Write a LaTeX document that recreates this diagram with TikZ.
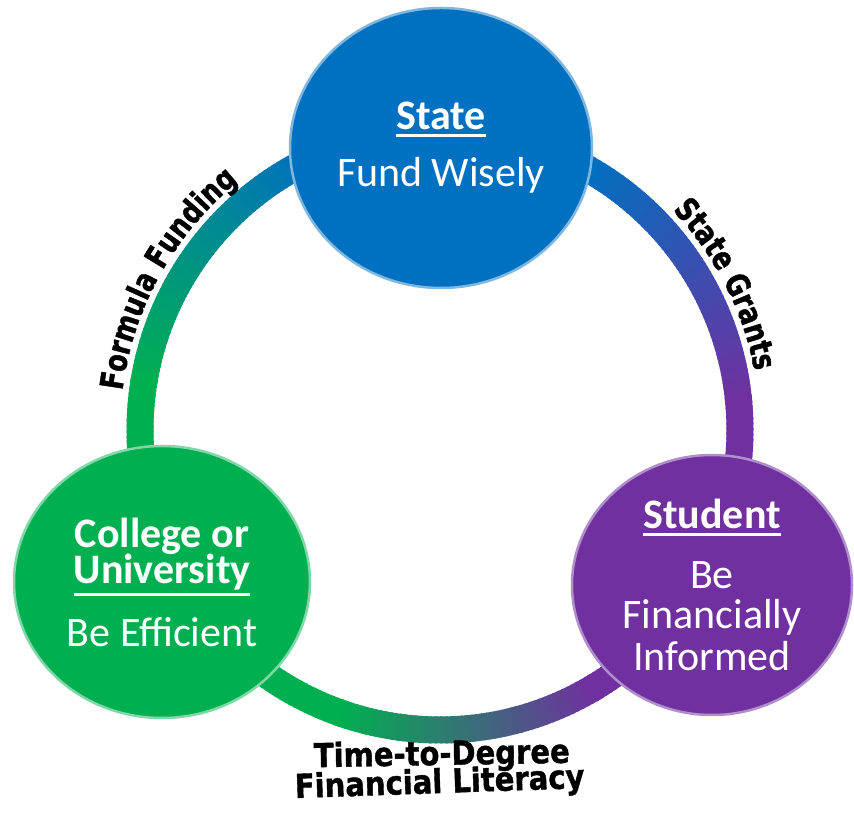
\documentclass[tikz,border=0pt]{standalone}
\usepackage{fontspec}
\setmainfont{Carlito}
\newfontfamily\loopfont{DejaVu Sans}[FakeStretch=0.88, FakeBold=1.2]
\newfontfamily\arcfont{DejaVu Sans}[FakeStretch=0.8, FakeBold=1.3]
\usetikzlibrary{shapes.geometric, decorations.text}

\definecolor{stateblue}{RGB}{0,112,192}
\definecolor{collegegreen}{RGB}{0,176,80}
\definecolor{studentpurple}{RGB}{112,48,160}

% underlined title, #1 = drop of the rule below the baseline
\newcommand{\ultext}[2][7pt]{\setbox0=\hbox{#2}\rlap{\rule[-#1]{\wd0}{3pt}}\box0}

\tikzset{
  actor/.style={ellipse, inner sep=0pt, line width=2.5pt, text=white, align=center,
    font=\fontsize{42}{40}\selectfont},
  ringline/.style={line width=27pt},
  bottomlabel/.style={anchor=base, font=\loopfont\bfseries\fontsize{33}{33}\selectfont}
}

\begin{document}
\begin{tikzpicture}[x=1pt, y=1pt]
\useasboundingbox (0,0) rectangle (854,821);
% Ring
\coordinate (ringc) at (440,391);
\foreach \ringfrom/\ringto/\colfrom/\colto in {100/115/stateblue/stateblue, 115/170/stateblue/collegegreen,
  170/250/collegegreen/collegegreen, 250/300/collegegreen/studentpurple, 300/365/studentpurple/studentpurple,
  365/420/studentpurple/stateblue, 420/460/stateblue/stateblue} {
  \foreach \a in {\ringfrom,...,\ringto} {
    \pgfmathtruncatemacro\mix{100*(\a-\ringfrom)/(\ringto-\ringfrom)}
    \draw[ringline, draw=\colto!\mix!\colfrom] ([shift={(ringc)}]\a:300pt) arc[start angle=\a, delta angle=1.5, radius=300pt];
  }
}
% Circles
\node[actor, fill=stateblue, draw=stateblue!50!white, minimum width=302pt, minimum height=280pt] (state) at (441,673)
  {\ultext{\bfseries State}\\[17pt]Fund Wisely};
\node[actor, fill=collegegreen, draw=collegegreen!50!white, minimum width=296pt, minimum height=272pt] (college) at (162,239)
  {{\bfseries College or}\\[-4pt]\ultext[13pt]{\bfseries University}\\[20pt]Be Efficient};
\node[actor, fill=studentpurple, draw=studentpurple!55!white, minimum width=280pt, minimum height=260pt] (student) at (712,236)
  {\ultext{\bfseries Student}\\[20pt]Be\\Financially\\[2pt]Informed};
% Labels along the ring
\path[decorate, decoration={text along path, text align=center, text color=black,
  text={|\arcfont\bfseries\fontsize{32}{32}\selectfont|Formula Funding}}]
  ([shift={(ringc)}]183:320pt) arc[start angle=183, end angle=119, radius=320pt];
\path[decorate, decoration={text along path, text align=center, text color=black,
  text={|\arcfont\bfseries\fontsize{32}{32}\selectfont|State Grants}}]
  ([shift={(ringc)}]59:320pt) arc[start angle=59, end angle=-5, radius=320pt];
% Bottom labels
\node[bottomlabel, rotate=1] (timelabel) at (442,56) {Time-to-Degree};
\node[bottomlabel, rotate=2] (literacylabel) at (440,28) {Financial Literacy};
\end{tikzpicture}
\end{document}
